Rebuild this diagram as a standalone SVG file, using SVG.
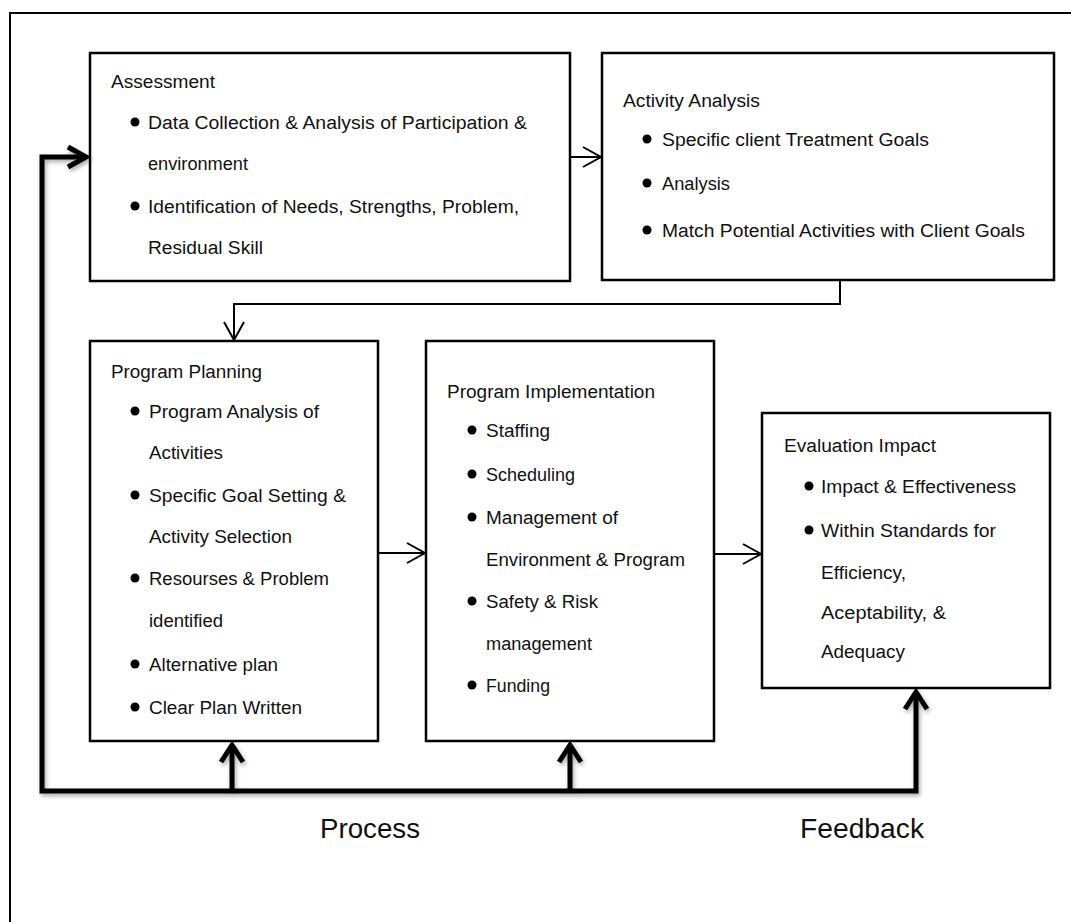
<svg xmlns="http://www.w3.org/2000/svg" width="1071" height="922" viewBox="0 0 1071 922">
<style>
.box{fill:#fff;stroke:#000;stroke-width:2.5}
.t{font-family:"Liberation Sans",Arial,sans-serif;font-size:18px;fill:#111}
.big{font-family:"Liberation Sans",Arial,sans-serif;font-size:28px;fill:#111}
.thin{fill:none;stroke:#000;stroke-width:2}
.thick{fill:none;stroke:#000;stroke-width:5;stroke-linejoin:miter}
.dot{fill:#000}
</style>
<defs>
<filter id="sh" x="-10%" y="-10%" width="120%" height="120%">
<feDropShadow dx="1.5" dy="2.5" stdDeviation="2" flood-color="#000" flood-opacity="0.35"/>
</filter>
</defs>
<rect width="1071" height="922" fill="#fff"/>
<path d="M10,940 V13 H1090" class="thin" stroke-width="2.5"/>

<g id="assessment">
<rect class="box" x="90" y="53" width="480" height="228"/>
<text class="t" x="111" y="88" textLength="104" lengthAdjust="spacingAndGlyphs">Assessment</text>
<circle class="dot" cx="135" cy="122" r="4.5"/>
<text class="t" x="148" y="129" textLength="379" lengthAdjust="spacingAndGlyphs">Data Collection &amp; Analysis of Participation &amp;</text>
<text class="t" x="148" y="170" textLength="100" lengthAdjust="spacingAndGlyphs">environment</text>
<circle class="dot" cx="135" cy="206" r="4.5"/>
<text class="t" x="148" y="213" textLength="371" lengthAdjust="spacingAndGlyphs">Identification of Needs, Strengths, Problem,</text>
<text class="t" x="148" y="254" textLength="115" lengthAdjust="spacingAndGlyphs">Residual Skill</text>
</g>

<g id="activity-analysis">
<rect class="box" x="602" y="53" width="452" height="227"/>
<text class="t" x="623" y="107" textLength="137" lengthAdjust="spacingAndGlyphs">Activity Analysis</text>
<circle class="dot" cx="647" cy="139" r="4.5"/>
<text class="t" x="662" y="146" textLength="267" lengthAdjust="spacingAndGlyphs">Specific client Treatment Goals</text>
<circle class="dot" cx="647" cy="183" r="4.5"/>
<text class="t" x="662" y="190" textLength="68" lengthAdjust="spacingAndGlyphs">Analysis</text>
<circle class="dot" cx="647" cy="230" r="4.5"/>
<text class="t" x="662" y="237" textLength="363" lengthAdjust="spacingAndGlyphs">Match Potential Activities with Client Goals</text>
</g>

<g id="program-planning">
<rect class="box" x="90" y="341" width="288" height="400"/>
<text class="t" x="111" y="378" textLength="151" lengthAdjust="spacingAndGlyphs">Program Planning</text>
<circle class="dot" cx="135" cy="411" r="4.5"/>
<text class="t" x="149" y="418" textLength="170" lengthAdjust="spacingAndGlyphs">Program Analysis of</text>
<text class="t" x="149" y="459" textLength="74" lengthAdjust="spacingAndGlyphs">Activities</text>
<circle class="dot" cx="135" cy="495" r="4.5"/>
<text class="t" x="149" y="502" textLength="197" lengthAdjust="spacingAndGlyphs">Specific Goal Setting &amp;</text>
<text class="t" x="149" y="543" textLength="143" lengthAdjust="spacingAndGlyphs">Activity Selection</text>
<circle class="dot" cx="135" cy="578" r="4.5"/>
<text class="t" x="149" y="585" textLength="180" lengthAdjust="spacingAndGlyphs">Resourses &amp; Problem</text>
<text class="t" x="149" y="627" textLength="74" lengthAdjust="spacingAndGlyphs">identified</text>
<circle class="dot" cx="135" cy="664" r="4.5"/>
<text class="t" x="149" y="671" textLength="129" lengthAdjust="spacingAndGlyphs">Alternative plan</text>
<circle class="dot" cx="135" cy="707" r="4.5"/>
<text class="t" x="149" y="714" textLength="153" lengthAdjust="spacingAndGlyphs">Clear Plan Written</text>
</g>

<g id="program-implementation">
<rect class="box" x="426" y="341" width="288" height="400"/>
<text class="t" x="447" y="398" textLength="208" lengthAdjust="spacingAndGlyphs">Program Implementation</text>
<circle class="dot" cx="472" cy="430" r="4.5"/>
<text class="t" x="486" y="437" textLength="64" lengthAdjust="spacingAndGlyphs">Staffing</text>
<circle class="dot" cx="472" cy="474" r="4.5"/>
<text class="t" x="486" y="481" textLength="89" lengthAdjust="spacingAndGlyphs">Scheduling</text>
<circle class="dot" cx="472" cy="517" r="4.5"/>
<text class="t" x="486" y="524" textLength="132" lengthAdjust="spacingAndGlyphs">Management  of</text>
<text class="t" x="486" y="566" textLength="199" lengthAdjust="spacingAndGlyphs">Environment  &amp; Program</text>
<circle class="dot" cx="472" cy="601" r="4.5"/>
<text class="t" x="486" y="608" textLength="112" lengthAdjust="spacingAndGlyphs">Safety &amp; Risk</text>
<text class="t" x="486" y="650" textLength="106" lengthAdjust="spacingAndGlyphs">management</text>
<circle class="dot" cx="472" cy="685" r="4.5"/>
<text class="t" x="486" y="692" textLength="64" lengthAdjust="spacingAndGlyphs">Funding</text>
</g>

<g id="evaluation-impact">
<rect class="box" x="762" y="413" width="288" height="275"/>
<text class="t" x="784" y="452" textLength="152" lengthAdjust="spacingAndGlyphs">Evaluation Impact</text>
<circle class="dot" cx="809" cy="486" r="4.5"/>
<text class="t" x="821" y="493" textLength="195" lengthAdjust="spacingAndGlyphs">Impact &amp; Effectiveness</text>
<circle class="dot" cx="809" cy="530" r="4.5"/>
<text class="t" x="821" y="537" textLength="175" lengthAdjust="spacingAndGlyphs">Within Standards  for</text>
<text class="t" x="821" y="579" textLength="85" lengthAdjust="spacingAndGlyphs">Efficiency,</text>
<text class="t" x="821" y="619" textLength="125" lengthAdjust="spacingAndGlyphs">Aceptability,  &amp;</text>
<text class="t" x="821" y="658" textLength="84" lengthAdjust="spacingAndGlyphs">Adequacy</text>
</g>

<g id="connectors">
<path class="thin" d="M570,157 H601"/>
<path class="thin" d="M583,147 L601,157 L583,167"/>
<path class="thin" d="M840,280 V304 H234 V340"/>
<path class="thin" d="M224,322 L234,340 L244,322"/>
<path class="thin" d="M378,553 H425"/>
<path class="thin" d="M407,543 L425,553 L407,563"/>
<path class="thin" d="M714,554 H761"/>
<path class="thin" d="M743,544 L761,554 L743,564"/>
<g filter="url(#sh)">
<path class="thick" d="M86,157 H42 V791 H916 V692"/>
<path class="thick" d="M68,147 L86,157 L68,167"/>
<path class="thick" d="M232,791 V745"/>
<path class="thick" d="M221,762 L232,745 L243,762"/>
<path class="thick" d="M570,791 V745"/>
<path class="thick" d="M559,762 L570,745 L581,762"/>
<path class="thick" d="M905,709 L916,692 L927,709"/>
</g>
</g>

<text class="big" x="320" y="838" textLength="100" lengthAdjust="spacingAndGlyphs">Process</text>
<text class="big" x="800" y="838" textLength="124" lengthAdjust="spacingAndGlyphs">Feedback</text>
</svg>
